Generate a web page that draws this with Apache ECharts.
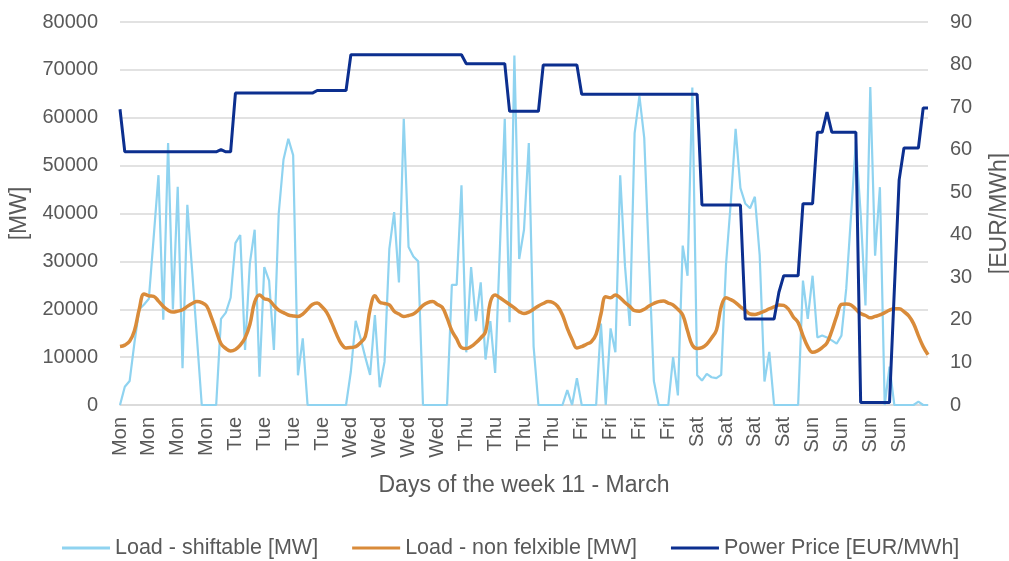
<!DOCTYPE html>
<html>
<head>
<meta charset="utf-8">
<script src="https://cdn.jsdelivr.net/npm/echarts@6/dist/echarts.min.js"></script>
<style>
html,body{margin:0;padding:0;background:#fff;}
#chart{width:1009px;height:561px;}
</style>
</head>
<body>
<div id="chart"></div>
<script>
// 28 tick labels, one every 6 hours
const tickLabels = ['Mon','Mon','Mon','Mon','Tue','Tue','Tue','Tue','Wed','Wed','Wed','Wed',
  'Thu','Thu','Thu','Thu','Fri','Fri','Fri','Fri','Sat','Sat','Sat','Sat','Sun','Sun','Sun','Sun'];

// Load - shiftable [MW], hourly
const loadShiftable = [
  0,3800,5000,13000,20000,21000,22200,35000,48000,17800,54700,20000,45600,7700,41800,28000,14000,0,0,0,0,18000,19300,22400,
  33800,35500,11500,29600,36600,5900,28800,26000,11500,40000,51300,55600,52200,6200,13900,0,0,0,0,0,0,0,0,0,
  7000,17600,14000,10000,6300,18800,3700,9000,32600,40300,25600,59800,33000,31000,30000,0,0,0,0,0,0,25100,25100,45900,
  11000,28800,17500,25600,9500,17500,6700,33000,59800,17300,73000,30500,36600,54700,12200,0,0,0,0,0,0,3100,0,5600,
  0,0,0,0,17000,0,16000,11000,48000,29000,16500,56800,64500,55800,30000,5000,0,0,0,10000,2000,33300,27000,66300,
  6200,5100,6500,5800,5600,6300,29300,42400,57700,45300,42100,41100,43500,31300,4900,11100,0,0,0,0,0,0,26000,18000,
  27000,14100,14500,14100,13500,12800,14500,24300,39600,55000,40000,20800,66400,31200,45500,0,8000,0,0,0,0,0,700,0,
  0
];

// Load - non felxible [MW], hourly
const loadNonFlexible = [
  12200,12500,13300,15500,20000,23200,22800,22700,21700,20600,19800,19400,19600,19900,20600,21200,21600,21400,20700,18300,15500,12800,11800,11300,
  11600,12500,14000,16800,21500,23000,22200,21900,20800,19800,19300,18800,18600,18500,19000,20000,21000,21300,20500,19300,17200,14800,12800,11900,
  12000,12200,13000,14300,20000,22800,21500,21200,20900,19600,19000,18500,18700,19000,19800,20800,21400,21600,21000,20400,18200,15500,13800,12000,
  11800,12200,13000,14000,15300,21500,23000,22400,21700,21000,20300,19500,19100,19400,20000,20700,21200,21600,21400,20600,18800,16000,13700,11900,
  12200,12700,13200,14800,19000,22600,22400,23000,22400,21400,20600,19700,19600,20000,20700,21200,21600,21700,21300,20900,20000,18800,15500,12500,
  11800,12000,12700,14000,15600,20500,22400,22000,21400,20500,19800,19000,18900,19200,19600,20100,20500,20900,20800,20000,18400,17200,14500,12200,
  11000,11300,12000,13000,15500,18500,21000,21100,20900,20000,19100,18700,18200,18500,18800,19300,19800,20100,20100,19500,18600,17000,14500,12200,
  10500
];

// Power Price [EUR/MWh], hourly
const powerPrice = [
  69.5,59.5,59.5,59.5,59.5,59.5,59.5,59.5,59.5,59.5,59.5,59.5,59.5,59.5,59.5,59.5,59.5,59.5,59.5,59.5,59.5,60.0,59.5,59.5,
  73.3,73.3,73.3,73.3,73.3,73.3,73.3,73.3,73.3,73.3,73.3,73.3,73.3,73.3,73.3,73.3,73.3,73.9,73.9,73.9,73.9,73.9,73.9,73.9,
  82.3,82.3,82.3,82.3,82.3,82.3,82.3,82.3,82.3,82.3,82.3,82.3,82.3,82.3,82.3,82.3,82.3,82.3,82.3,82.3,82.3,82.3,82.3,82.3,
  80.2,80.2,80.2,80.2,80.2,80.2,80.2,80.2,80.2,69.0,69.0,69.0,69.0,69.0,69.0,69.0,79.9,79.9,79.9,79.9,79.9,79.9,79.9,79.9,
  73.0,73.0,73.0,73.0,73.0,73.0,73.0,73.0,73.0,73.0,73.0,73.0,73.0,73.0,73.0,73.0,73.0,73.0,73.0,73.0,73.0,73.0,73.0,73.0,
  73.0,47.0,47.0,47.0,47.0,47.0,47.0,47.0,47.0,47.0,20.2,20.2,20.2,20.2,20.2,20.2,20.2,26.5,30.4,30.4,30.4,30.4,47.3,47.3,
  47.3,64.1,64.1,68.8,64.1,64.1,64.1,64.1,64.1,64.1,0.6,0.6,0.6,0.6,0.6,0.6,0.6,27.0,52.9,60.4,60.4,60.4,60.4,69.8,
  69.8
];

const seriesNames = ['Load - shiftable [MW]', 'Load - non felxible [MW]', 'Power Price [EUR/MWh]'];
const seriesColors = ['#8fd3f0', '#d98b3a', '#0c2f8f'];

// category for each hourly point; tick label on every 6th hour
const categories = loadShiftable.map((v, i) => (i % 6 === 0 && i / 6 < tickLabels.length) ? tickLabels[i / 6] : '');

const FONT = '"Liberation Sans", Arial, sans-serif';
const GREY = '#595959';

const chart = echarts.init(document.getElementById('chart'), null, {renderer: 'canvas'});
chart.setOption({
  animation: false,
  backgroundColor: '#ffffff',
  grid: {left: 120, right: 81, top: 22, bottom: 156, containLabel: false, outerBoundsMode: 'none'},
  legend: {
    data: [
      {name: seriesNames[0], icon: 'rect', itemStyle: {color: seriesColors[0]}},
      {name: seriesNames[1], icon: 'rect', itemStyle: {color: seriesColors[1]}},
      {name: seriesNames[2], icon: 'rect', itemStyle: {color: seriesColors[2]}}
    ],
    left: 62,
    top: 537,
    padding: 0,
    itemWidth: 48,
    itemHeight: 3,
    itemGap: 34,
    textStyle: {fontFamily: FONT, fontSize: 21.5, color: GREY}
  },
  xAxis: {
    type: 'category',
    data: categories,
    boundaryGap: false,
    name: 'Days of the week 11 - March',
    nameLocation: 'middle',
    nameGap: 69,
    nameTextStyle: {fontFamily: FONT, fontSize: 23, color: GREY},
    axisLine: {show: true, lineStyle: {color: '#d9d9d9', width: 1.5}},
    axisTick: {show: false},
    axisLabel: {interval: 0, rotate: 90, margin: 12, fontFamily: FONT, fontSize: 20, color: GREY},
    splitLine: {show: false}
  },
  yAxis: [
    {
      type: 'value',
      min: 0, max: 80000, interval: 10000,
      name: '[MW]',
      nameLocation: 'middle',
      nameRotate: 90,
      nameGap: 86,
      nameTextStyle: {fontFamily: FONT, fontSize: 23, color: GREY},
      axisLine: {show: false},
      axisTick: {show: false},
      axisLabel: {margin: 22, fontFamily: FONT, fontSize: 20, color: GREY, formatter: v => String(v)},
      splitLine: {show: true, lineStyle: {color: '#d9d9d9', width: 1.5}}
    },
    {
      type: 'value',
      min: 0, max: 90, interval: 10,
      position: 'right',
      name: '[EUR/MWh]',
      nameLocation: 'middle',
      nameRotate: 90,
      nameGap: 60,
      nameTextStyle: {fontFamily: FONT, fontSize: 23, color: GREY},
      axisLine: {show: false},
      axisTick: {show: false},
      axisLabel: {margin: 22, fontFamily: FONT, fontSize: 20, color: GREY, formatter: v => String(v)},
      splitLine: {show: false}
    }
  ],
  series: [
    {
      name: seriesNames[0], type: 'line', yAxisIndex: 0, data: loadShiftable,
      symbol: 'none', z: 2,
      lineStyle: {color: seriesColors[0], width: 2.2},
      itemStyle: {color: seriesColors[0]}
    },
    {
      name: seriesNames[1], type: 'line', yAxisIndex: 0, data: loadNonFlexible,
      symbol: 'none', smooth: 0.4, z: 3,
      lineStyle: {color: seriesColors[1], width: 3.5},
      itemStyle: {color: seriesColors[1]}
    },
    {
      name: seriesNames[2], type: 'line', yAxisIndex: 1, data: powerPrice,
      symbol: 'none', z: 4,
      lineStyle: {color: seriesColors[2], width: 3},
      itemStyle: {color: seriesColors[2]}
    }
  ]
});
</script>
</body>
</html>
